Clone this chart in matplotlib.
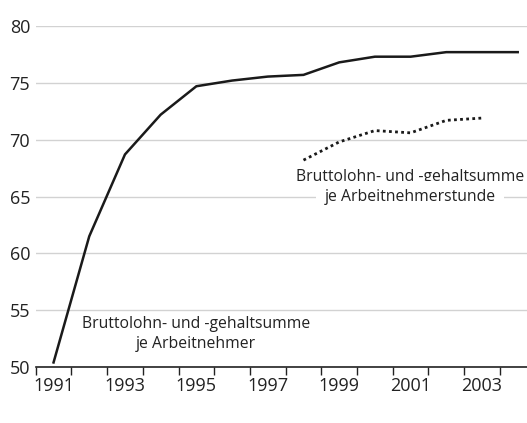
import matplotlib.pyplot as plt

plt.rcParams['font.family'] = ['Open Sans', 'DejaVu Sans']

# Daten
jahre = list(range(1991, 2005))
je_arbeitnehmer = [50.4, 61.5, 68.7, 72.2, 74.7, 75.2, 75.55, 75.7, 76.8, 77.3, 77.3, 77.7, 77.7, 77.7]
jahre_stunde = list(range(1998, 2004))
je_stunde = [68.2, 69.8, 70.8, 70.6, 71.7, 71.9]
y_ticks = [50, 55, 60, 65, 70, 75, 80]
x_labels = ['1991', '1993', '1995', '1997', '1999', '2001', '2003']

fig = plt.figure(figsize=(5.27, 4.23), dpi=100)
ax = fig.add_axes([35.7 / 527, 56 / 423, 1 - 35.7 / 527, (367 - 26) / 423])

# Linien (Punkte jeweils in der Jahresmitte)
ax.plot([j + 0.5 for j in jahre], je_arbeitnehmer, color='#1a1a1a', lw=1.8, zorder=3)
ax.plot([j + 0.5 for j in jahre_stunde], je_stunde, color='#1a1a1a', lw=2.0,
        linestyle=(0, (1, 1.2)), zorder=3)

ax.set_xlim(1991, 2004.76)
ax.set_ylim(50, 80)

# Gitter
ax.set_yticks(y_ticks)
ax.yaxis.grid(True, color='#d2d2d2', lw=1)
ax.set_axisbelow(True)
ax.tick_params(axis='y', length=0, pad=4, labelsize=13, labelcolor='#222222')

# x-Achse: Striche an Jahresgrenzen, Beschriftung mittig
ax.set_xticks(jahre)
ax.set_xticklabels([])
ax.tick_params(axis='x', which='major', length=6, width=1, color='#222222')
ax.set_xticks([int(s) + 0.5 for s in x_labels], minor=True)
ax.set_xticklabels(x_labels, minor=True)
ax.tick_params(axis='x', which='minor', length=0, pad=7, labelsize=13, labelcolor='#222222')

for s in ['top', 'right', 'left']:
    ax.spines[s].set_visible(False)
ax.spines['bottom'].set_color('#222222')
ax.spines['bottom'].set_linewidth(1.2)

# Beschriftungen
ax.text(1995.5, 52.9, 'Bruttolohn- und -gehaltsumme\nje Arbeitnehmer',
        ha='center', va='center', fontsize=11.3, color='#222222', linespacing=1.4)
ax.text(2001.48, 66.7, 'Bruttolohn- und -gehaltsumme',
        ha='center', va='center', fontsize=11.3, color='#222222', zorder=4)
ax.text(2001.48, 64.95, 'je Arbeitnehmerstunde',
        ha='center', va='center', fontsize=11.3, color='#222222', zorder=4,
        bbox=dict(facecolor='white', edgecolor='none', pad=6))

fig.savefig('out.png', dpi=100)
